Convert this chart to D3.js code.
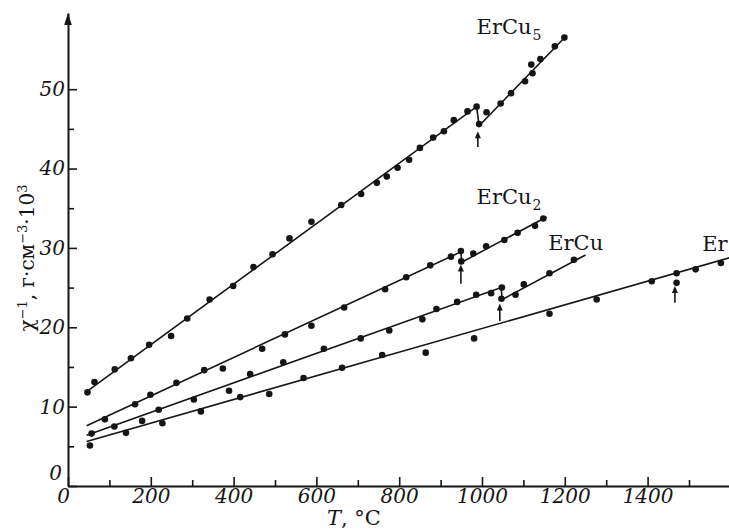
<!DOCTYPE html>
<html><head><meta charset="utf-8">
<script src="https://cdn.jsdelivr.net/npm/d3@7"></script>
<style>body{margin:0;background:#fff}svg{display:block}</style>
</head><body>
<svg id="c" width="729" height="529"></svg>
<script>
// ---- data ----
const xTickLabels = [0, 200, 400, 600, 800, 1000, 1200, 1400];
const xMinorTicks = [100, 300, 500, 700, 900, 1100, 1300, 1500];
const yTickLabels = [0, 10, 20, 30, 40, 50];
const yMinorTicks = [5, 15, 25, 35, 45];

const ercu5T = [47, 64, 113, 152, 196, 249, 288, 342, 399, 448, 494, 535, 588, 660, 708, 746, 770, 796, 824, 850, 882, 908, 932, 965, 987, 993, 1011, 1045, 1070, 1104, 1122, 1119, 1141, 1176, 1199];
const ercu5V = [11.8, 13.1, 14.7, 16.1, 17.8, 18.9, 21.1, 23.5, 25.2, 27.6, 29.2, 31.2, 33.3, 35.4, 36.8, 38.2, 39.0, 40.1, 41.1, 42.6, 43.9, 44.7, 46.1, 47.2, 47.8, 45.6, 47.1, 48.2, 49.5, 51.0, 52.0, 53.1, 53.8, 55.4, 56.5];
const ercu2T = [89, 162, 199, 262, 329, 374, 469, 524, 588, 667, 766, 817, 875, 925, 949, 950, 979, 1010, 1054, 1086, 1128, 1148];
const ercu2V = [8.4, 10.3, 11.5, 13.0, 14.6, 14.8, 17.3, 19.1, 20.2, 22.5, 24.8, 26.3, 27.8, 28.9, 29.6, 28.3, 29.3, 30.2, 31.0, 31.9, 32.8, 33.7];
const ercuT = [57, 112, 179, 219, 304, 389, 440, 520, 618, 707, 776, 856, 890, 940, 986, 1022, 1048, 1047, 1081, 1101, 1163, 1222];
const ercuV = [6.6, 7.5, 8.2, 9.6, 10.9, 12.0, 14.1, 15.6, 17.3, 18.6, 19.6, 21.0, 22.3, 23.2, 24.1, 24.3, 25.0, 23.6, 24.1, 25.4, 26.8, 28.5];
const erT = [53, 140, 228, 321, 416, 486, 569, 662, 759, 864, 981, 1163, 1277, 1410, 1470, 1470, 1516, 1577];
const erV = [5.1, 6.7, 7.9, 9.4, 11.2, 11.6, 13.6, 14.9, 16.5, 16.8, 18.6, 21.7, 23.5, 25.8, 26.8, 25.6, 27.3, 28.1];

// fitted lines (vertices)
const ercu5LineT = [45, 987, 993, 1205];
const ercu5LineV = [11.9, 47.8, 45.4, 56.8];
const ercu2LineT = [45, 949, 951, 1156];
const ercu2LineV = [7.6, 29.5, 28.2, 33.9];
const ercuLineT = [45, 1046, 1049, 1250];
const ercuLineV = [6.4, 25.0, 23.5, 29.1];
const erLineT = [45, 1600];
const erLineV = [5.6, 28.8];

// transition arrows
const arrowT = [990, 949, 1043, 1466];
const arrowTipV = [44.7, 27.9, 23.0, 25.2];
const arrowTailV = [42.7, 25.5, 20.8, 23.1];

// curve labels
const labelBase = ["ErCu", "ErCu", "ErCu", "Er"];
const labelSub = ["5", "2", "", ""];
const labelT = [987, 987, 1160, 1532];
const labelV = [57.0, 35.5, 29.7, 29.6];

// ---- drawing ----
const svg = d3.select("#c");
const ink = "#151515";
const x = d3.scaleLinear().domain([0, 1600]).range([68, 730.4]);
const y = d3.scaleLinear().domain([0, 59.6]).range([486, 13]);
const tickFont = "'DejaVu Serif', serif";

// X axis
const gx = svg.append("g").attr("transform", `translate(0,${y(0)})`)
  .call(d3.axisBottom(x).tickValues(xTickLabels.concat([1600])).tickSizeInner(-9).tickSizeOuter(0).tickPadding(3)
    .tickFormat(d => d === 1600 ? "" : d));
svg.append("g").attr("transform", `translate(0,${y(0)})`)
  .call(d3.axisBottom(x).tickValues(xMinorTicks).tickSizeInner(-6).tickSizeOuter(0).tickFormat(""))
  .select(".domain").remove();

// Y axis
const gy = svg.append("g").attr("transform", `translate(${x(0)},0)`)
  .call(d3.axisLeft(y).tickValues(yTickLabels).tickSizeInner(-9).tickSizeOuter(0).tickPadding(3));
svg.append("g").attr("transform", `translate(${x(0)},0)`)
  .call(d3.axisLeft(y).tickValues(yMinorTicks).tickSizeInner(-6).tickSizeOuter(0).tickFormat(""))
  .select(".domain").remove();

svg.selectAll(".domain").attr("stroke", ink).attr("stroke-width", 2);
svg.selectAll(".tick line").attr("stroke", ink).attr("stroke-width", 1.6);
svg.selectAll(".tick text").attr("font-family", tickFont).attr("font-style", "italic")
  .attr("font-size", 20).attr("fill", ink);
gx.selectAll(".tick text").filter(d => d === 0).attr("dx", -5);
gy.selectAll(".tick text").filter(d => d === 0).attr("dy", "-0.35em").attr("dx", -3);

// Y axis arrowhead
const yTop = y.domain()[1];
svg.append("path")
  .attr("d", `M${x(0)},${y(yTop)} L${x(0) - 3.8},${y(yTop) + 12} L${x(0) + 3.8},${y(yTop) + 12} Z`)
  .attr("fill", ink);

// Axis titles
const yt = svg.append("text")
  .attr("transform", `translate(34,258) rotate(-90)`)
  .attr("text-anchor", "middle")
  .attr("font-family", tickFont).attr("font-size", 20).attr("fill", ink);
yt.append("tspan").text("χ");
yt.append("tspan").attr("dy", -7).attr("font-size", 13).text("−1");
yt.append("tspan").attr("dy", 7).text(", г·см");
yt.append("tspan").attr("dy", -7).attr("font-size", 13).text("−3");
yt.append("tspan").attr("dy", 7).text("·10");
yt.append("tspan").attr("dy", -7).attr("font-size", 13).text("3");

const xt = svg.append("text").attr("x", 327).attr("y", 525)
  .attr("font-family", tickFont).attr("font-size", 21).attr("fill", ink);
xt.append("tspan").attr("font-style", "italic").text("T");
xt.append("tspan").text(", °C");

// fitted lines
const line = d3.line().x(d => x(d[0])).y(d => y(d[1]));
const lineSets = [[ercu5LineT, ercu5LineV], [ercu2LineT, ercu2LineV], [ercuLineT, ercuLineV], [erLineT, erLineV]];
lineSets.forEach(([ts, vs]) => {
  svg.append("path").datum(ts.map((t, i) => [t, vs[i]]))
    .attr("d", line).attr("fill", "none").attr("stroke", ink).attr("stroke-width", 1.6);
});

// points
const pointSets = [[ercu5T, ercu5V], [ercu2T, ercu2V], [ercuT, ercuV], [erT, erV]];
pointSets.forEach(([ts, vs]) => {
  svg.append("g").selectAll("circle").data(ts.map((t, i) => [t, vs[i]])).join("circle")
    .attr("cx", d => x(d[0])).attr("cy", d => y(d[1])).attr("r", 3.3).attr("fill", ink);
});

// arrows
arrowT.forEach((t, i) => {
  const ax = x(t), tip = y(arrowTipV[i]), tail = y(arrowTailV[i]);
  svg.append("line").attr("x1", ax).attr("x2", ax).attr("y1", tail).attr("y2", tip + 5)
    .attr("stroke", ink).attr("stroke-width", 1.6);
  svg.append("path").attr("d", `M${ax},${tip} L${ax - 3},${tip + 7} L${ax + 3},${tip + 7} Z`).attr("fill", ink);
});

// labels
labelBase.forEach((b, i) => {
  const t = svg.append("text").attr("x", x(labelT[i])).attr("y", y(labelV[i]))
    .attr("font-family", tickFont).attr("font-size", 21).attr("fill", ink);
  t.append("tspan").text(b);
  if (labelSub[i]) t.append("tspan").attr("dy", 6).attr("dx", 1).attr("font-size", 14).text(labelSub[i]);
});
</script>
</body></html>
